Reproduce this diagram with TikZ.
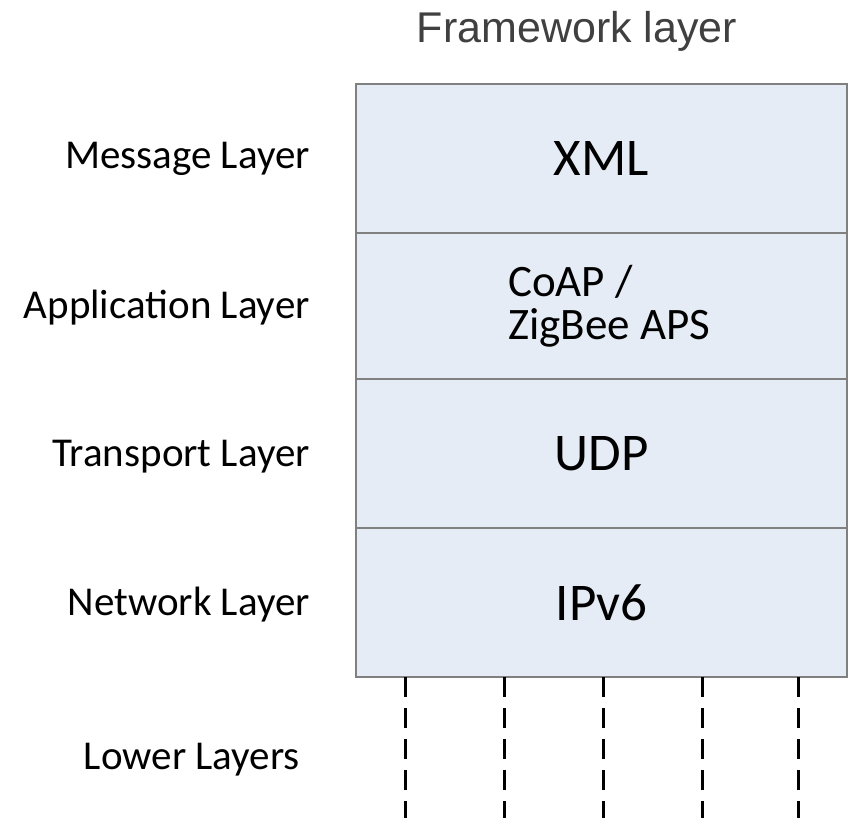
\documentclass[tikz,border=0pt]{standalone}
\usepackage{fontspec}
\setmainfont{Carlito}
\newfontfamily\headfont{Liberation Sans}
\definecolor{boxfill}{RGB}{230,236,246}
\definecolor{boxline}{RGB}{128,128,128}
\definecolor{headgray}{RGB}{64,64,64}
\begin{document}
\begin{tikzpicture}[x=1pt,y=-1pt,
  layerbox/.style={draw=boxline, fill=boxfill, line width=1.4pt,
    minimum width=491pt, inner sep=0pt, outer sep=0pt,
    font=\fontsize{53}{60}\selectfont},
  sidelabel/.style={anchor=base east, inner sep=0pt,
    font=\fontsize{41}{48}\selectfont},
  dashline/.style={line width=3pt, dash pattern=on 20pt off 11pt}]
\useasboundingbox (0,0) rectangle (850,818);

% title
\node[anchor=base, inner sep=0pt, text=headgray,
  font=\headfont\fontsize{43}{50}\selectfont] (title) at (577,43) {Framework layer};

% protocol stack
\node[layerbox, minimum height=149pt] (msg)   at (601.5,158.5) {XML};
\node[layerbox, minimum height=146pt] (app)   at (601.5,306) {};
\node[layerbox, minimum height=149pt] (trans) at (601.5,453.5) {UDP};
\node[layerbox, minimum height=149pt] (net)   at (601.5,602.5) {IPv6};
\node[anchor=west, align=left, inner sep=0pt,
  font=\fontsize{45}{43}\selectfont] (coap) at (508,306) {CoAP /\\ZigBee APS};

% layer names
\node[sidelabel] (lmsg)   at (310,169) {Message Layer};
\node[sidelabel] (lapp)   at (310,318) {Application Layer};
\node[sidelabel] (ltrans) at (310,466) {Transport Layer};
\node[sidelabel] (lnet)   at (310,615) {Network Layer};
\node[sidelabel] (llow)   at (300,769) {Lower Layers};

% lower layers as dashed lines below the stack
\foreach \i/\x in {1/405,2/504,3/603,4/702,5/798}{
  \coordinate (top\i) at (\x,677);
  \coordinate (bot\i) at (\x,818);
  \draw[dashline] (top\i) -- (bot\i);
}
\end{tikzpicture}
\end{document}
